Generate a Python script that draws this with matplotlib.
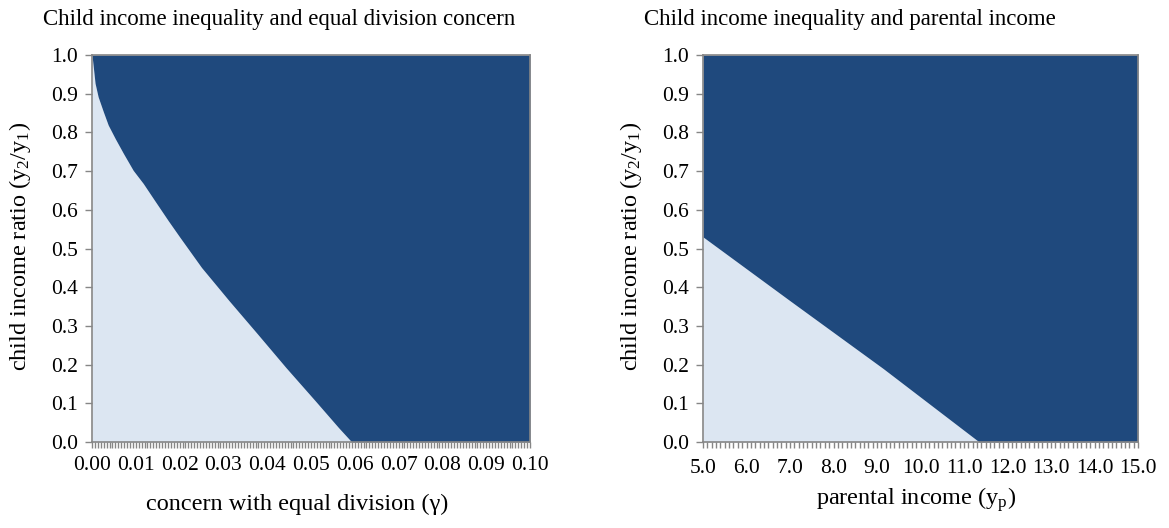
import numpy as np
import matplotlib
matplotlib.use("Agg")
import matplotlib.pyplot as plt

plt.rcParams['font.family'] = ['Liberation Serif', 'DejaVu Serif']
plt.rcParams['mathtext.fontset'] = 'custom'
plt.rcParams['mathtext.rm'] = 'Liberation Serif'
plt.rcParams['mathtext.it'] = 'Liberation Serif:italic'

# Threshold child income ratio as a function of equal-division concern
gamma = [0.0, 0.0007, 0.0014, 0.0026, 0.0037, 0.0053, 0.0072, 0.0094, 0.0117,
         0.0143, 0.0174, 0.0200, 0.0250, 0.0313, 0.0378, 0.0443, 0.0510,
         0.0563, 0.0593, 0.10]
ratio_gamma = [1.0, 0.927, 0.892, 0.853, 0.819, 0.784, 0.745, 0.702, 0.668,
               0.624, 0.572, 0.530, 0.451, 0.365, 0.279, 0.192, 0.106,
               0.037, 0.0, 0.0]

# Threshold child income ratio as a function of parental income
parental_income = [5.0, 7.0, 9.14, 11.35, 15.0]
ratio_income = [0.53, 0.365, 0.19, 0.0, 0.0]

gamma_labels = ['0.00', '0.01', '0.02', '0.03', '0.04', '0.05',
                '0.06', '0.07', '0.08', '0.09', '0.10']
income_labels = ['5.0', '6.0', '7.0', '8.0', '9.0', '10.0',
                 '11.0', '12.0', '13.0', '14.0', '15.0']
ratio_ticks = [0.0, 0.1, 0.2, 0.3, 0.4, 0.5, 0.6, 0.7, 0.8, 0.9, 1.0]

LIGHT = '#DCE6F2'
DARK = '#1F497D'
AXIS = '#868686'
W, H = 1169, 528

fig = plt.figure(figsize=(W / 100, H / 100), dpi=100)


def px_box(x0, y0, x1, y1):
    return [x0 / W, 1 - y1 / H, (x1 - x0) / W, (y1 - y0) / H]


def region_panel(ax, x, y, xlim, n_cat, labels, xpad):
    x = np.asarray(x, float)
    y = np.asarray(y, float)
    ax.fill_between(x, 0, y, color=LIGHT, lw=0)
    ax.fill_between(x, y, 1, color=DARK, lw=0)
    ax.set_xlim(*xlim)
    ax.set_ylim(0, 1)
    for s in ax.spines.values():
        s.set_color(AXIS)
        s.set_linewidth(1.2)
    ax.set_yticks(ratio_ticks)
    ax.set_yticklabels([f'{v:.1f}' for v in ratio_ticks])
    major = np.linspace(xlim[0], xlim[1], len(labels))
    ax.set_xticks(major)
    ax.set_xticklabels(labels)
    ax.set_xticks(np.linspace(xlim[0], xlim[1], n_cat + 1), minor=True)
    ax.tick_params(axis='y', length=5, width=1, color=AXIS, labelsize=15.5,
                   pad=5)
    ax.tick_params(axis='x', which='both', length=4, width=1, color=AXIS,
                   labelsize=15.5, pad=xpad)


ax1 = fig.add_axes(px_box(92, 55, 530, 442))
region_panel(ax1, gamma, ratio_gamma, (0.0, 0.10), 150, gamma_labels, 6)

ax2 = fig.add_axes(px_box(703, 55, 1138, 442))
region_panel(ax2, parental_income, ratio_income, (5.0, 15.0), 100,
             income_labels, 8)

fig.text(279 / W, 1 - 19 / H,
         'Child income inequality and equal division concern',
         ha='center', va='center', fontsize=16.5)
fig.text(850 / W, 1 - 19 / H,
         'Child income inequality and parental income',
         ha='center', va='center', fontsize=16.5)

fig.text(297 / W, 1 - 504 / H, 'concern with equal division (γ)',
         ha='center', va='center', fontsize=17.5)
fig.text(916 / W, 1 - 500 / H, r'parental income (y$_\mathrm{p}$)',
         ha='center', va='center', fontsize=17.5)

fig.text(20 / W, 1 - 246 / H, r'child income ratio (y$_2$/y$_1$)',
         ha='center', va='center', rotation=90, fontsize=17.5)
fig.text(631 / W, 1 - 246 / H, r'child income ratio (y$_2$/y$_1$)',
         ha='center', va='center', rotation=90, fontsize=17.5)

fig.savefig('out.png', dpi=100)
